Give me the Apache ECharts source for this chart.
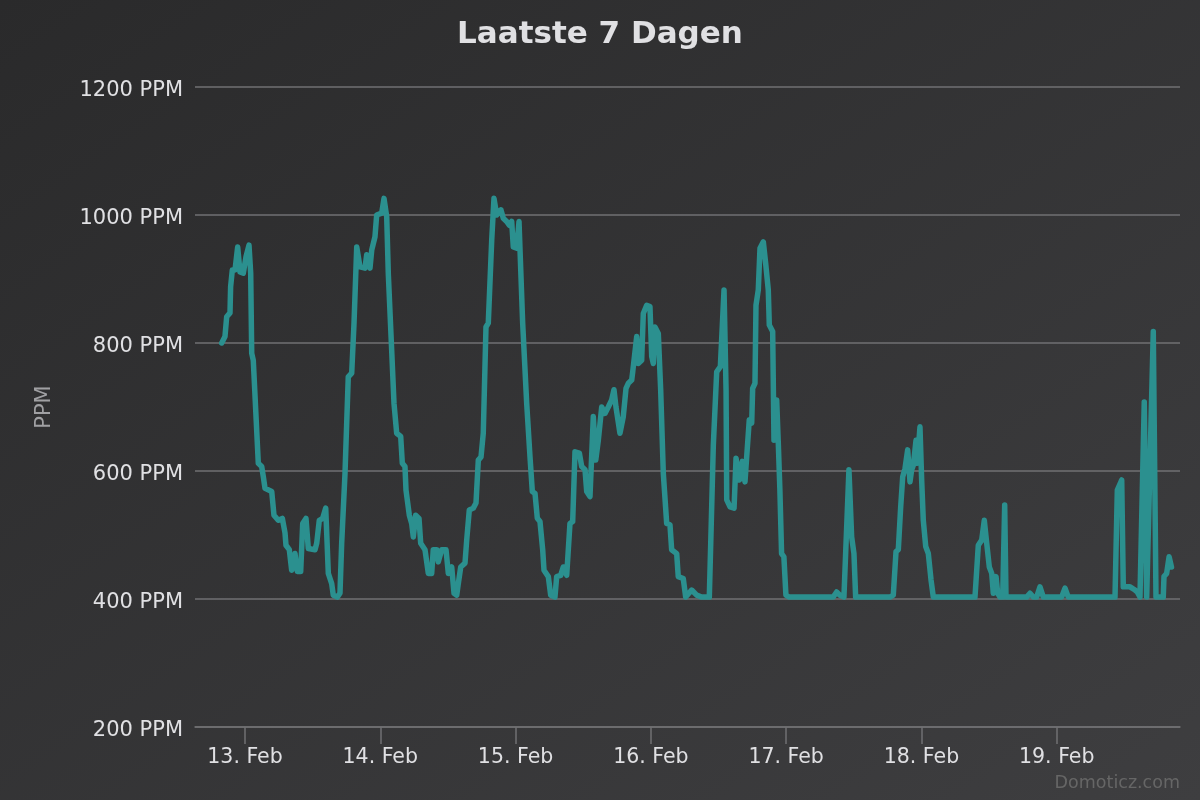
<!DOCTYPE html>
<html><head><meta charset="utf-8">
<script src="https://cdn.jsdelivr.net/npm/echarts@6/dist/echarts.min.js"></script>
<style>html,body{margin:0;padding:0;}#c{width:1200px;height:800px;background:linear-gradient(to bottom right,#2a2a2b,#3e3e40);}</style>
</head><body><div id="c"></div><script>
// hours since 13 Feb 00:00
const hours = [
 -4.13,-3.55,-3.25,-2.66,-2.55,-2.25,-1.77,-1.30,-0.89,-0.30,
 0.18,0.71,1.01,1.19,1.47,2.36,2.96,3.25,3.55,4.74,
 5.14,5.91,6.62,7.10,7.27,7.86,8.28,8.87,9.28,9.88,
 10.24,10.82,11.23,12.42,12.72,13.18,13.78,14.32,14.78,15.38,
 15.66,16.37,16.85,17.15,17.74,18.32,18.93,19.34,19.82,20.40,
 21.29,21.59,22.17,22.48,23.06,23.36,24.25,24.66,25.14,25.42,
 26.02,26.43,26.91,27.62,27.91,28.38,28.56,29.15,29.57,29.86,
 30.28,30.87,31.17,31.93,32.52,33.12,33.40,34.01,34.29,34.89,
 35.66,36.07,36.67,37.08,37.56,37.84,38.27,39.03,39.33,39.79,
 40.50,40.98,41.39,41.87,42.27,42.75,43.16,43.77,44.17,44.65,
 45.41,45.82,46.42,46.89,47.31,47.60,48.20,48.61,48.79,49.26,
 49.97,50.56,50.97,51.45,51.86,52.33,52.81,53.04,53.81,54.23,
 54.99,55.29,56.00,56.46,57.07,57.65,58.13,58.54,59.31,59.73,
 60.32,60.62,61.20,61.79,62.22,62.68,63.28,63.86,64.45,65.05,
 65.46,65.81,66.52,67.11,67.59,68.00,68.60,68.78,69.49,69.77,
 70.37,70.66,71.26,71.84,72.15,72.43,72.73,73.32,73.74,74.21,
 74.81,75.39,75.69,76.58,76.86,77.75,78.18,79.24,80.13,81.02,
 82.37,83.08,83.68,84.33,84.98,85.34,85.46,86.05,86.76,87.11,
 87.70,88.23,88.70,89.00,89.46,89.89,90.06,90.47,90.65,91.06,
 91.36,91.95,92.37,92.83,93.01,93.61,93.84,94.32,94.61,94.89,
 95.19,95.60,95.96,96.55,104.36,104.96,105.54,106.25,107.14,107.62,
 108.03,108.33,114.42,115.01,115.49,115.90,116.32,116.68,117.09,117.56,
 117.97,118.27,118.56,119.04,119.27,119.74,120.04,120.33,120.76,121.22,
 121.70,122.11,129.50,130.09,130.69,131.15,131.58,132.04,132.47,132.75,
 133.23,133.53,133.94,134.42,134.77,135.00,138.67,139.26,139.84,140.44,
 141.03,141.62,144.88,145.47,146.05,154.34,154.75,155.53,155.81,157.00,
 157.89,158.29,158.77,159.53,159.96,160.24,161.13,161.61,162.90,163.03,
 163.50,163.94,164.36
];
const ppm = [
 800,810,841,847,888,914,914,950,911,909,
 935,953,909,784,773,612,607,591,573,568,
 531,523,526,503,484,477,445,471,443,443,
 518,526,479,477,487,523,526,542,440,424,
 406,403,409,487,596,747,753,831,950,919,
 917,938,917,945,966,1000,1003,1026,997,909,
 789,706,659,654,612,607,570,531,518,497,
 531,526,487,477,440,440,477,477,458,477,
 477,440,450,409,406,424,450,456,492,539,
 542,550,617,622,659,825,831,961,1026,1000,
 1008,995,990,984,990,950,948,990,945,831,
 706,622,568,565,526,521,477,445,435,406,
 403,435,437,450,437,518,521,630,628,607,
 602,568,560,685,617,648,700,690,700,711,
 727,700,659,685,729,737,742,755,810,768,
 773,846,859,857,779,768,825,815,727,596,
 518,516,477,471,435,432,403,414,406,403,
 403,640,755,763,883,727,555,544,542,620,
 586,615,583,622,680,675,729,737,859,883,
 948,958,924,883,828,818,648,711,643,570,
 471,466,406,403,403,411,406,403,602,497,
 471,403,403,406,474,477,544,591,604,633,
 583,602,609,648,612,669,586,523,482,471,
 430,403,403,484,492,523,487,450,440,409,
 435,409,403,403,547,403,403,409,403,403,
 419,403,403,417,403,403,570,586,419,419,
 414,411,403,708,403,403,818,403,403,435,
 440,466,450
];
// tick positions in hours since 13 Feb 00:00 (midnight of each day)
const tickHours = [0,24,48,72,96,120,144];
const xTickLabels = ['13. Feb','14. Feb','15. Feb','16. Feb','17. Feb','18. Feb','19. Feb'];
const yTicks = [200,400,600,800,1000,1200];
const yUnit = ' PPM';

const xMinH = -8.87, xMaxH = 165.87;
const seriesData = hours.map((h,i) => [h, ppm[i]]);
const FONT = 'DejaVu Sans';

const chart = echarts.init(document.getElementById('c'), null, {renderer:'canvas'});
chart.setOption({
  backgroundColor:'transparent',
  animation:false,
  title:{text:'Laatste 7 Dagen', left:'center', top:14,
    textStyle:{color:'#E0E0E3', fontSize:31, fontWeight:'bold', fontFamily:FONT}},
  grid:{left:195, right:20, top:87, bottom:73, containLabel:false},
  xAxis:{type:'value', min:xMinH, max:xMaxH,
    axisLine:{show:true, onZero:false, lineStyle:{color:'#707073', width:1.5}},
    axisTick:{show:true, length:17, customValues:tickHours, lineStyle:{color:'#707073', width:1.5}},
    axisLabel:{color:'#E0E0E3', fontSize:20.5, fontFamily:FONT, margin:20, customValues:tickHours,
      formatter:v => { const i = tickHours.indexOf(+v); return i >= 0 ? xTickLabels[i] : ''; }},
    splitLine:{show:false}},
  yAxis:{type:'value', min:yTicks[0], max:yTicks[yTicks.length-1], interval:200,
    name:'PPM', nameLocation:'middle', nameGap:140, nameRotate:90,
    nameTextStyle:{color:'#A0A0A3', fontSize:21, fontFamily:FONT},
    axisLine:{show:false}, axisTick:{show:false},
    axisLabel:{color:'#E0E0E3', fontSize:21, fontFamily:FONT, margin:12, verticalAlign:'top', lineHeight:7, formatter:v => v + yUnit},
    splitLine:{show:true, lineStyle:{color:'#707073', width:1.5}}},
  series:[{type:'line', data:seriesData, showSymbol:false, symbol:'none', smooth:false,
    color:'#2b908f', lineStyle:{color:'#2b908f', width:5.5, join:'round', cap:'round'}}],
  graphic:[{type:'text', right:20, bottom:8,
    style:{text:'Domoticz.com', fill:'#666666', font:'17.5px "DejaVu Sans"'}}]
});
</script></body></html>
